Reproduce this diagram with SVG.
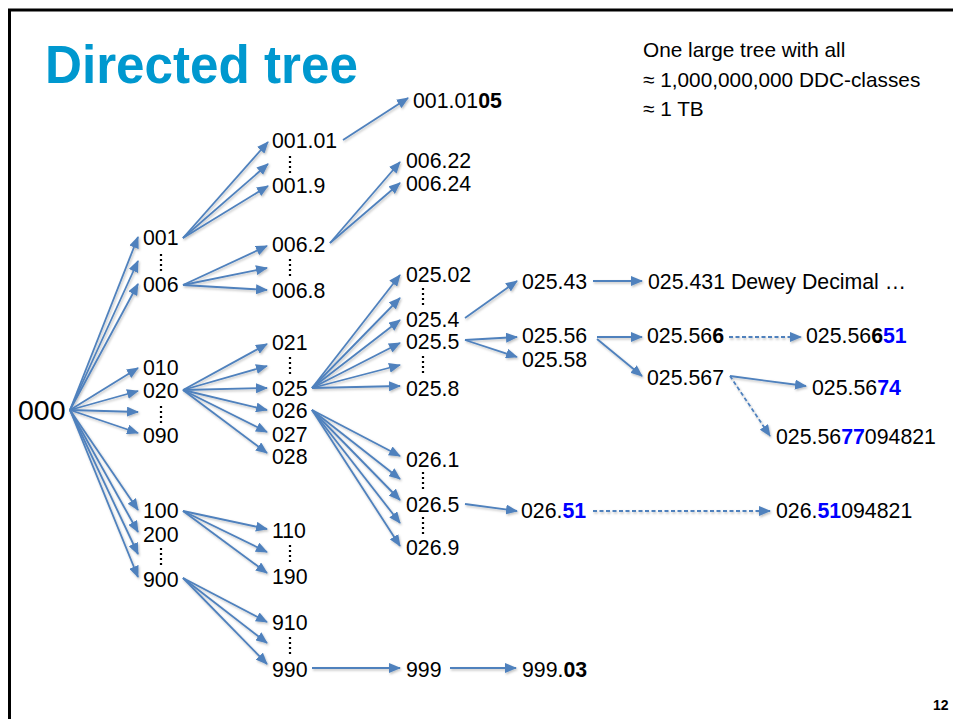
<svg xmlns="http://www.w3.org/2000/svg" width="953" height="719" viewBox="0 0 953 719">
<style>
.t{font-family:"Liberation Sans",Arial,sans-serif;font-size:21.3px;fill:#000}
.b{font-weight:bold}
.bl{font-weight:bold;fill:#0000ff}
.info{font-family:"Liberation Sans",Arial,sans-serif;font-size:20.8px;fill:#000}
.title{font-family:"Liberation Sans",Arial,sans-serif;font-size:54px;font-weight:bold;fill:#0098cf}
.a{stroke:#4f81bd;stroke-width:1.8;fill:none;marker-end:url(#ah)}
.d{stroke-dasharray:4 2.5}
.dots{stroke:#000;stroke-width:2.2;stroke-dasharray:2 3;fill:none}
</style>
<defs>
<marker id="ah" markerUnits="userSpaceOnUse" markerWidth="12" markerHeight="10" refX="11" refY="5" orient="auto">
<path d="M0,0 L12,5 L0,10 z" fill="#4f81bd"/>
</marker>
<filter id="sh" x="-5%" y="-5%" width="110%" height="110%">
<feDropShadow dx="1" dy="1.5" stdDeviation="0.8" flood-color="#000" flood-opacity="0.25"/>
</filter>
</defs>
<rect width="953" height="719" fill="#fff"/>
<g id="frame">
<line x1="8" y1="10" x2="953" y2="10" stroke="#000" stroke-width="3"/>
<line x1="9.5" y1="9" x2="9.5" y2="719" stroke="#000" stroke-width="3"/>
</g>
<text id="title" class="title" x="45" y="83" textLength="313" lengthAdjust="spacingAndGlyphs">Directed tree</text>
<g id="info">
<text class="info" x="643" y="57">One large tree with all</text>
<text class="info" x="643" y="87">≈ 1,000,000,000 DDC-classes</text>
<text class="info" x="643" y="116">≈ 1 TB</text>
</g>
<g id="connectors" filter="url(#sh)">
<line class="a" x1="70" y1="410" x2="138" y2="237"/>
<line class="a" x1="70" y1="410" x2="138" y2="261"/>
<line class="a" x1="70" y1="410" x2="138" y2="284"/>
<line class="a" x1="70" y1="410" x2="138" y2="368"/>
<line class="a" x1="70" y1="410" x2="138" y2="391"/>
<line class="a" x1="70" y1="410" x2="138" y2="412"/>
<line class="a" x1="70" y1="410" x2="138" y2="433"/>
<line class="a" x1="70" y1="410" x2="138" y2="510"/>
<line class="a" x1="70" y1="410" x2="138" y2="532"/>
<line class="a" x1="70" y1="410" x2="138" y2="554"/>
<line class="a" x1="70" y1="410" x2="138" y2="577"/>
<line class="a" x1="183" y1="238" x2="268" y2="142"/>
<line class="a" x1="183" y1="238" x2="268" y2="164"/>
<line class="a" x1="183" y1="238" x2="268" y2="186"/>
<line class="a" x1="183" y1="285" x2="267" y2="246"/>
<line class="a" x1="183" y1="285" x2="267" y2="268"/>
<line class="a" x1="183" y1="285" x2="267" y2="290"/>
<line class="a" x1="183" y1="390" x2="267" y2="344"/>
<line class="a" x1="183" y1="390" x2="267" y2="366"/>
<line class="a" x1="183" y1="390" x2="267" y2="388"/>
<line class="a" x1="183" y1="390" x2="267" y2="410"/>
<line class="a" x1="183" y1="390" x2="267" y2="432"/>
<line class="a" x1="183" y1="390" x2="267" y2="453"/>
<line class="a" x1="183" y1="511" x2="267" y2="529"/>
<line class="a" x1="183" y1="511" x2="267" y2="552"/>
<line class="a" x1="183" y1="511" x2="267" y2="573"/>
<line class="a" x1="183" y1="578" x2="267" y2="622"/>
<line class="a" x1="183" y1="578" x2="267" y2="643"/>
<line class="a" x1="183" y1="578" x2="267" y2="664"/>
<line class="a" x1="343" y1="140" x2="408" y2="98"/>
<line class="a" x1="330" y1="243" x2="400" y2="162"/>
<line class="a" x1="330" y1="243" x2="400" y2="183"/>
<line class="a" x1="312" y1="388" x2="400" y2="275"/>
<line class="a" x1="312" y1="388" x2="400" y2="298"/>
<line class="a" x1="312" y1="388" x2="400" y2="320"/>
<line class="a" x1="312" y1="388" x2="400" y2="343"/>
<line class="a" x1="312" y1="388" x2="400" y2="365"/>
<line class="a" x1="312" y1="388" x2="400" y2="386"/>
<line class="a" x1="312" y1="410" x2="400" y2="456"/>
<line class="a" x1="312" y1="410" x2="400" y2="479"/>
<line class="a" x1="312" y1="410" x2="400" y2="500"/>
<line class="a" x1="312" y1="410" x2="400" y2="523"/>
<line class="a" x1="312" y1="410" x2="400" y2="546"/>
<line class="a" x1="465" y1="318" x2="517" y2="281"/>
<line class="a" x1="465" y1="340" x2="517" y2="337"/>
<line class="a" x1="465" y1="340" x2="517" y2="357"/>
<line class="a" x1="593" y1="281" x2="642" y2="281"/>
<line class="a" x1="597" y1="337" x2="642" y2="337"/>
<line class="a" x1="597" y1="339" x2="642" y2="376"/>
<line class="a d" x1="729" y1="337" x2="801" y2="337"/>
<line class="a" x1="730" y1="376" x2="806" y2="386"/>
<line class="a d" x1="730" y1="376" x2="770" y2="436"/>
<line class="a" x1="465" y1="504" x2="517" y2="511"/>
<line class="a d" x1="593" y1="511" x2="770" y2="511"/>
<line class="a" x1="312" y1="668" x2="400" y2="668"/>
<line class="a" x1="450" y1="668" x2="516" y2="668"/>
</g>
<g id="dotted">
<line class="dots" x1="161" y1="254" x2="161" y2="274"/>
<line class="dots" x1="161" y1="406" x2="161" y2="426"/>
<line class="dots" x1="161" y1="548" x2="161" y2="568"/>
<line class="dots" x1="290" y1="156" x2="290" y2="176"/>
<line class="dots" x1="290" y1="259" x2="290" y2="279"/>
<line class="dots" x1="290" y1="357" x2="290" y2="377"/>
<line class="dots" x1="290" y1="545" x2="290" y2="565"/>
<line class="dots" x1="290" y1="637" x2="290" y2="657"/>
<line class="dots" x1="423" y1="288" x2="423" y2="308"/>
<line class="dots" x1="423" y1="356" x2="423" y2="376"/>
<line class="dots" x1="423" y1="472" x2="423" y2="492"/>
<line class="dots" x1="423" y1="517" x2="423" y2="537"/>
</g>
<g id="n000"><text class="t" x="18" y="420" style="font-size:28.5px">000</text></g>
<g id="n001"><text class="t" x="143" y="245">001</text></g>
<g id="n006"><text class="t" x="143" y="292">006</text></g>
<g id="n010"><text class="t" x="143" y="375">010</text></g>
<g id="n020"><text class="t" x="143" y="398">020</text></g>
<g id="n090"><text class="t" x="143" y="443">090</text></g>
<g id="n100"><text class="t" x="143" y="518">100</text></g>
<g id="n200"><text class="t" x="143" y="542">200</text></g>
<g id="n900"><text class="t" x="143" y="587">900</text></g>
<g id="n001_01"><text class="t" x="272" y="148">001.01</text></g>
<g id="n001_9"><text class="t" x="272" y="193">001.9</text></g>
<g id="n006_2"><text class="t" x="272" y="252">006.2</text></g>
<g id="n006_8"><text class="t" x="272" y="298">006.8</text></g>
<g id="n021"><text class="t" x="272" y="350">021</text></g>
<g id="n025"><text class="t" x="272" y="396">025</text></g>
<g id="n026"><text class="t" x="272" y="418">026</text></g>
<g id="n027"><text class="t" x="272" y="442">027</text></g>
<g id="n028"><text class="t" x="272" y="464">028</text></g>
<g id="n110"><text class="t" x="272" y="538">110</text></g>
<g id="n190"><text class="t" x="272" y="584">190</text></g>
<g id="n910"><text class="t" x="272" y="630">910</text></g>
<g id="n990"><text class="t" x="272" y="677">990</text></g>
<g id="n001_0105"><text class="t" x="413" y="108">001.01<tspan class="b">05</tspan></text></g>
<g id="n006_22"><text class="t" x="406" y="168">006.22</text></g>
<g id="n006_24"><text class="t" x="406" y="191">006.24</text></g>
<g id="n025_02"><text class="t" x="406" y="282">025.02</text></g>
<g id="n025_4"><text class="t" x="406" y="327">025.4</text></g>
<g id="n025_5"><text class="t" x="406" y="349">025.5</text></g>
<g id="n025_8"><text class="t" x="406" y="396">025.8</text></g>
<g id="n026_1"><text class="t" x="406" y="467">026.1</text></g>
<g id="n026_5"><text class="t" x="406" y="512">026.5</text></g>
<g id="n026_9"><text class="t" x="406" y="555">026.9</text></g>
<g id="n999"><text class="t" x="406" y="677">999</text></g>
<g id="n025_43"><text class="t" x="522" y="289">025.43</text></g>
<g id="n025_56"><text class="t" x="522" y="343">025.56</text></g>
<g id="n025_58"><text class="t" x="522" y="367">025.58</text></g>
<g id="n026_51"><text class="t" x="521" y="518">026.<tspan class="bl">51</tspan></text></g>
<g id="n999_03"><text class="t" x="522" y="677">999.<tspan class="b">03</tspan></text></g>
<g id="n025_431"><text class="t" x="648" y="289">025.431 Dewey Decimal …</text></g>
<g id="n025_566"><text class="t" x="647" y="343">025.56<tspan class="b">6</tspan></text></g>
<g id="n025_567"><text class="t" x="647" y="385">025.567</text></g>
<g id="n025_56651"><text class="t" x="806" y="343">025.56<tspan class="b">6</tspan><tspan class="bl">51</tspan></text></g>
<g id="n025_5674"><text class="t" x="812" y="395">025.56<tspan class="bl">74</tspan></text></g>
<g id="n025_5677094821"><text class="t" x="776" y="444">025.56<tspan class="bl">77</tspan>094821</text></g>
<g id="n026_51094821"><text class="t" x="776" y="518">026.<tspan class="bl">51</tspan>094821</text></g>
<text id="page" x="933" y="710" style="font-family:'Liberation Sans',Arial,sans-serif;font-size:14px;font-weight:bold">12</text>
</svg>
